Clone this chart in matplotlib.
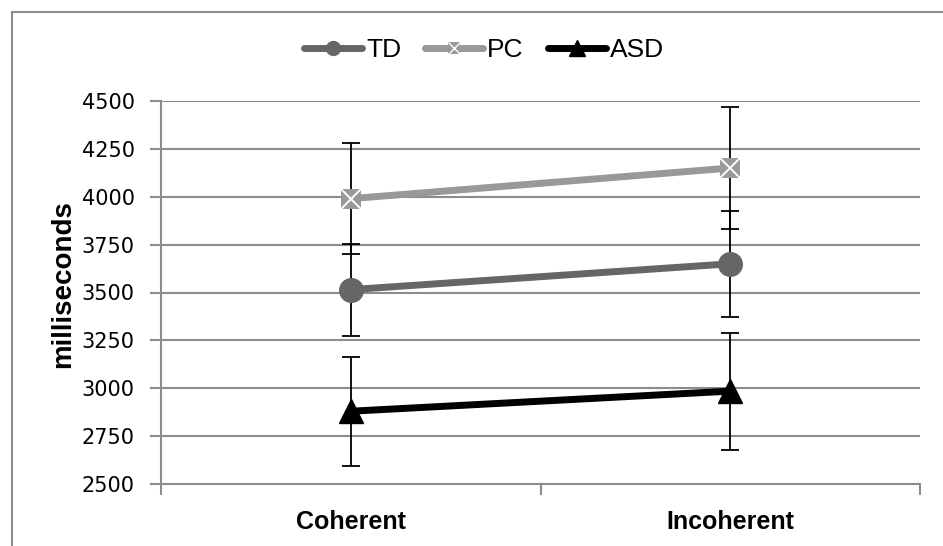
import matplotlib
matplotlib.use("Agg")
import matplotlib.pyplot as plt
from matplotlib.lines import Line2D

# data
conditions = ["Coherent", "Incoherent"]
groups = ["TD", "PC", "ASD"]
td_mean = [3515, 3650]
td_err = [240, 278]
pc_mean = [3990, 4150]
pc_err = [290, 320]
asd_mean = [2880, 2985]
asd_err = [285, 305]
yticks = [2500, 2750, 3000, 3250, 3500, 3750, 4000, 4250, 4500]

grid_col = "#8c8c8c"
td_col = "#666666"
pc_col = "#999999"
asd_col = "#000000"

fig = plt.figure(figsize=(9.43, 5.46), dpi=100)
ax = fig.add_axes([161 / 943, 1 - 484 / 546, (920 - 161) / 943, (484 - 101) / 546])

x = [0.5, 1.5]

# error bars first, lines and markers on top
for m, e in [(td_mean, td_err), (pc_mean, pc_err), (asd_mean, asd_err)]:
    ax.errorbar(x, m, yerr=e, fmt="none", ecolor="black", elinewidth=1.3,
                capsize=6.5, capthick=1.3, zorder=2)

ax.plot(x, td_mean, color=td_col, lw=5, marker="o", ms=17, mec=td_col, zorder=3)
ax.plot(x, pc_mean, color=pc_col, lw=5, marker="s", ms=15, mec=pc_col, mew=0, zorder=3)
ax.plot(x, pc_mean, color="none", lw=0, marker="x", ms=14, mec="white", mew=1.4, zorder=4)
ax.plot(x, asd_mean, color=asd_col, lw=5, marker="^", ms=17, zorder=3)

ax.set_xlim(0, 2)
ax.set_ylim(2500, 4500)
ax.set_yticks(yticks)
ax.set_yticklabels([str(t) for t in yticks], fontsize=15, family="DejaVu Sans")
ax.yaxis.grid(True, color=grid_col, lw=1.5)
ax.set_axisbelow(True)

ax.set_xticks([0, 1, 2])
ax.set_xticklabels([])
ax.set_xticks(x, minor=True)
ax.set_xticklabels(conditions, minor=True, fontsize=18, fontweight="bold",
                   family="Liberation Sans")
ax.tick_params(axis="x", which="major", direction="out", length=8, width=1.5, color=grid_col)
ax.tick_params(axis="x", which="minor", length=0, pad=19)
ax.tick_params(axis="y", direction="out", length=8, width=1.5, color=grid_col, pad=11)

for s in ["top", "right"]:
    ax.spines[s].set_visible(False)
for s in ["left", "bottom"]:
    ax.spines[s].set_color(grid_col)
    ax.spines[s].set_linewidth(1.5)

fig.text(63 / 943, 1 - 284 / 546, "milliseconds", rotation=90, ha="center", va="center",
         fontsize=20, fontweight="bold", family="Liberation Sans")

# legend with smaller markers
td_h = Line2D([], [], color=td_col, lw=5, marker="o", ms=10, solid_capstyle="round")
pc_h = Line2D([], [], color=pc_col, lw=5, marker="s", ms=9, mew=0, solid_capstyle="round")
pc_x = Line2D([], [], color="none", lw=0, marker="x", ms=8, mec="white", mew=1)
asd_h = Line2D([], [], color=asd_col, lw=5, marker="^", ms=11, solid_capstyle="round")
fig.legend([td_h, (pc_h, pc_x), asd_h], groups, loc="center", ncol=3,
           bbox_to_anchor=(484 / 943, 1 - 50 / 546), frameon=False,
           prop={"family": ["Liberation Sans Narrow", "Liberation Sans"], "size": 19},
           handlelength=2.2, handletextpad=0.15, columnspacing=0.9)

# chart border (top and left only visible)
fig.add_artist(Line2D([12 / 943, 1], [1 - 12 / 546, 1 - 12 / 546], transform=fig.transFigure,
                      color=grid_col, lw=1.5))
fig.add_artist(Line2D([12 / 943, 12 / 943], [0, 1 - 12 / 546], transform=fig.transFigure,
                      color=grid_col, lw=1.5))

fig.savefig("out.png", dpi=100)
